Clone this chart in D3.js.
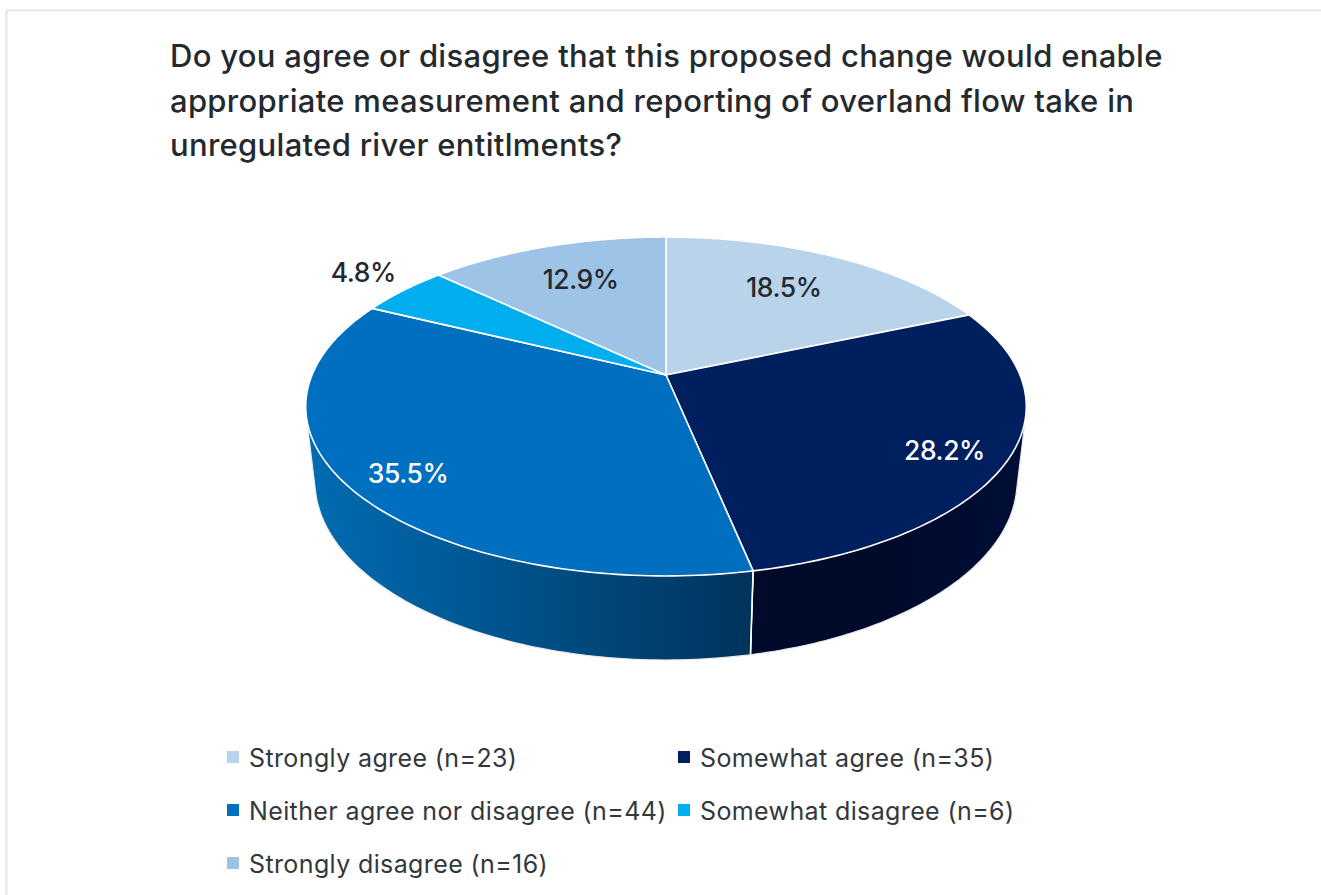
<!DOCTYPE html>
<html>
<head>
<meta charset="utf-8">
<style>
html,body{margin:0;padding:0;background:#fff;overflow:hidden}
svg{display:block}
text{font-family:Inter,"Noto Sans",sans-serif}
</style>
<script src="https://cdn.jsdelivr.net/npm/d3@7"></script>
</head>
<body>
<svg id="chart" width="1321" height="895"></svg>
<script>
// Survey responses
const categories = ["Strongly agree","Somewhat agree","Neither agree nor disagree","Somewhat disagree","Strongly disagree"];
const counts = [23,35,44,6,16];
const percentLabels = ["18.5%","28.2%","35.5%","4.8%","12.9%"];
const sliceColors = ["#b9d3ea","#001f5f","#006fc0","#00aeef","#9dc3e6"];
const percentColors = ["#24292e","#ffffff","#ffffff","#24292e","#24292e"];
const labelRadii = [0.70,0.84,0.85,1.2,0.705];
const labelTurnDegrees = [-1.5,2.8,-1.8,1.4,0.7];
const titleLines = [
  "Do you agree or disagree that this proposed change would enable",
  "appropriate measurement and reporting of overland flow take in",
  "unregulated river entitlments?"
];

const svg = d3.select("#chart");
const ink = "#24292e";

// Card edge
svg.append("path").attr("d","M6.5,1000V10.5H1321").attr("fill","none").attr("stroke","#e3e6ea").attr("stroke-width",2);

// Title
svg.append("g").selectAll("text").data(titleLines).join("text")
  .attr("x",170).attr("y",(d,i)=>67+i*44.5)
  .attr("font-size",31).attr("font-weight",450).attr("letter-spacing",0.3).attr("fill",ink)
  .text(d=>d);

// Perspective projection of the unit disc; depth 0 is the top face, depth 1 the underside
const proj = {cx:666, cy:375, sx:354, sy:163.6, tilt:0.1858, drop:75.7, recede:0.0255};
function project(u,v,depth){
  const w = 1 - proj.tilt*v + proj.recede*depth;
  return [proj.cx + proj.sx*u/w, proj.cy + (proj.sy*v + proj.drop*depth)/w];
}
const rim = (a,depth,r=1)=>project(r*Math.sin(a), -r*Math.cos(a), depth);

const arcs = d3.pie().sort(null).value(d=>d)(counts);
const steps = a=>d3.range(0,121).map(i=>a.startAngle+(a.endAngle-a.startAngle)*i/120);
const line = d3.line();

// Side wall gradients run left to right across the visible rim
const defs = svg.append("defs");
const sideStops = {
  1:["#000a2b","#000a2b","#000e36"],
  2:["#006cb3","#005088","#00335c"]
};
const sideRange = {1:[751,1026],2:[306,753]};
Object.keys(sideStops).forEach(k=>{
  const g = defs.append("linearGradient").attr("id","side"+k).attr("gradientUnits","userSpaceOnUse")
    .attr("x1",sideRange[k][0]).attr("x2",sideRange[k][1]).attr("y1",0).attr("y2",0);
  sideStops[k].forEach((c,i)=>g.append("stop").attr("offset",i/2).attr("stop-color",c));
});

// Side walls for the two front slices; the top face covers the hull's upper part
svg.append("g").selectAll("path").data([1,2]).join("path")
  .attr("d",k=>{
    const a = arcs[k];
    const pts = steps(a).flatMap(t=>[rim(t,0),rim(t,1)]);
    return line(d3.polygonHull(pts))+"Z";
  })
  .attr("fill",k=>`url(#side${k})`)
  .attr("stroke","#e9e9e9").attr("stroke-width",1.2).attr("stroke-linejoin","round");

// Vertical seam between the two walls
svg.append("path")
  .attr("d",line([rim(arcs[1].endAngle,0),rim(arcs[1].endAngle,1)]))
  .attr("stroke","#fff").attr("stroke-width",1.6).attr("fill","none");

// Top faces
svg.append("g").selectAll("path").data(arcs).join("path")
  .attr("d",a=>line([project(0,0,0),...steps(a).map(t=>rim(t,0))])+"Z")
  .attr("fill",(a,i)=>sliceColors[i])
  .attr("stroke","#fff").attr("stroke-width",1.6).attr("stroke-linejoin","round");

// Percentage labels
svg.append("g").selectAll("text").data(arcs).join("text")
  .each(function(a,i){
    const mid = (a.startAngle+a.endAngle)/2 + labelTurnDegrees[i]*Math.PI/180;
    const p = rim(mid,0,labelRadii[i]);
    d3.select(this).attr("x",p[0]).attr("y",p[1]+9.5);
  })
  .attr("text-anchor","middle").attr("font-size",26.5).attr("font-weight",450).attr("letter-spacing",-0.45)
  .attr("fill",(a,i)=>percentColors[i])
  .text((a,i)=>percentLabels[i]);

// Legend in two columns
const legendX = d3.scalePoint().domain([0,1]).range([227,678]);
const legendY = d3.scaleLinear().domain([0,1]).range([757,810]);
const legend = svg.append("g").selectAll("g").data(categories).join("g")
  .attr("transform",(d,i)=>`translate(${legendX(i%2)},${legendY(Math.floor(i/2))})`);
legend.append("rect").attr("x",0).attr("y",-6).attr("width",12).attr("height",12)
  .attr("fill",(d,i)=>sliceColors[i]);
legend.append("text").attr("x",22).attr("y",9.5)
  .attr("font-size",25).attr("letter-spacing",0.38).attr("fill","#33383d")
  .text((d,i)=>`${d} (n=${counts[i]})`);
</script>
</body>
</html>
